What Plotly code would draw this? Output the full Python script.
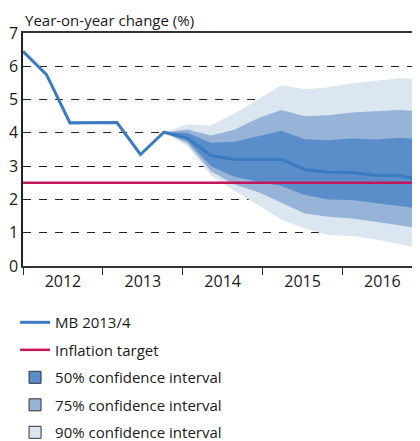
import plotly.graph_objects as go

# ---- data ----
# x = observation index (0 = first point in 2012)
central = [6.45, 5.75, 4.30, 4.30, 4.31, 3.35, 4.02, 3.84, 3.32, 3.20, 3.20, 3.20,
           2.90, 2.82, 2.81, 2.73, 2.72, 2.58]
fan_start = 6  # index where the forecast fan starts
upper90 = [4.02, 4.25, 4.22, 4.59, 5.00, 5.44, 5.31, 5.37, 5.49, 5.57, 5.64, 5.62]
upper75 = [4.02, 4.10, 3.92, 4.09, 4.44, 4.69, 4.50, 4.53, 4.61, 4.65, 4.69, 4.65]
upper50 = [4.02, 4.00, 3.70, 3.73, 3.90, 4.06, 3.81, 3.78, 3.83, 3.80, 3.85, 3.80]
lower50 = [4.02, 3.76, 3.00, 2.68, 2.53, 2.40, 2.13, 2.00, 1.98, 1.88, 1.80, 1.72]
lower75 = [4.02, 3.68, 2.85, 2.45, 2.22, 1.90, 1.58, 1.48, 1.43, 1.33, 1.23, 1.12]
lower90 = [4.02, 3.60, 2.72, 2.25, 1.83, 1.40, 1.13, 0.93, 0.90, 0.80, 0.66, 0.52]
inflation_target = 2.5
years = ["2012", "2013", "2014", "2015", "2016"]
year_width = 3.4          # observations per year on this axis
x_max = 16.9
y_ticks = [0, 1, 2, 3, 4, 5, 6, 7]

x_all = list(range(len(central)))
x_fan = x_all[fan_start:]
year_edges = [i * year_width for i in range(len(years) + 1)]
year_centers = [(i + 0.5) * year_width for i in range(len(years))]

C_LINE = "#3b7bc3"
C_TARGET = "#c2185b"
C50 = "#5a8ecb"
C75 = "#97b3d8"
C90 = "#dce6f1"
FONT = "Open Sans"

fig = go.Figure()

for lo, hi, col in [(lower90, upper90, C90), (lower75, upper75, C75), (lower50, upper50, C50)]:
    fig.add_trace(go.Scatter(x=x_fan, y=lo, mode="lines", line=dict(width=0, color=col),
                             showlegend=False, hoverinfo="skip"))
    fig.add_trace(go.Scatter(x=x_fan, y=hi, mode="lines", line=dict(width=0, color=col),
                             fill="tonexty", fillcolor=col, showlegend=False, hoverinfo="skip"))

fig.add_trace(go.Scatter(x=x_all, y=central, mode="lines", name="MB 2013/4",
                         line=dict(color=C_LINE, width=3), legendrank=1, legendgroup="a"))
fig.add_trace(go.Scatter(x=[0, x_max], y=[inflation_target] * 2, mode="lines",
                         name="Inflation target", line=dict(color=C_TARGET, width=2.5),
                         legendrank=2, legendgroup="b"))

# legend-only rectangles for the confidence bands (kept outside the visible x range)
for name, col, rk, g in [("50% confidence interval", C50, 3, "c"),
                         ("75% confidence interval", C75, 4, "d"),
                         ("90% confidence interval", C90, 5, "e")]:
    fig.add_shape(type="rect", xref="x", yref="y", x0=-3, x1=-2, y0=0, y1=1,
                  fillcolor=col, line=dict(color="#333333", width=1),
                  showlegend=True, name=name, legendrank=rk, legendgroup=g)

# page body has an 8px margin: the figure is sized/offset to fit the 420x441 window
fig.update_layout(
    width=412, height=433,
    margin=dict(l=15, r=0, t=25, b=175, autoexpand=False),
    plot_bgcolor="white", paper_bgcolor="white",
    font=dict(family=FONT, size=15, color="#1a1a1a"),
    showlegend=True,
    legend=dict(x=-0.02, y=-0.172, xanchor="left", yanchor="top", orientation="v",
                font=dict(size=15), tracegroupgap=5, bgcolor="rgba(0,0,0,0)",
                traceorder="grouped", itemwidth=30),
    annotations=[dict(text="Year-on-year change (%)", xref="paper", yref="paper",
                      x=0, y=1, xanchor="left", yanchor="bottom", yshift=1, xshift=0,
                      showarrow=False, font=dict(size=15, family=FONT))],
)

fig.update_xaxes(range=[0, x_max], tickmode="array", tickvals=year_centers, ticktext=years,
                 ticks="", showgrid=False, zeroline=False, automargin=False,
                 showline=True, linecolor="#333333", linewidth=1.5, mirror=True,
                 minor=dict(tickmode="array", tickvals=year_edges, ticks="outside",
                            ticklen=7, tickwidth=1.2, tickcolor="#333333", showgrid=False),
                 tickfont=dict(size=16))
fig.update_yaxes(range=[0, 7], tickmode="array", tickvals=y_ticks, ticks="",
                 showgrid=True, gridcolor="#222222", gridwidth=1.3, griddash="8px,8px",
                 zeroline=False, showline=True, linecolor="#222222", linewidth=1.5,
                 automargin=False, tickfont=dict(size=16))

fig.write_html("out.html")
